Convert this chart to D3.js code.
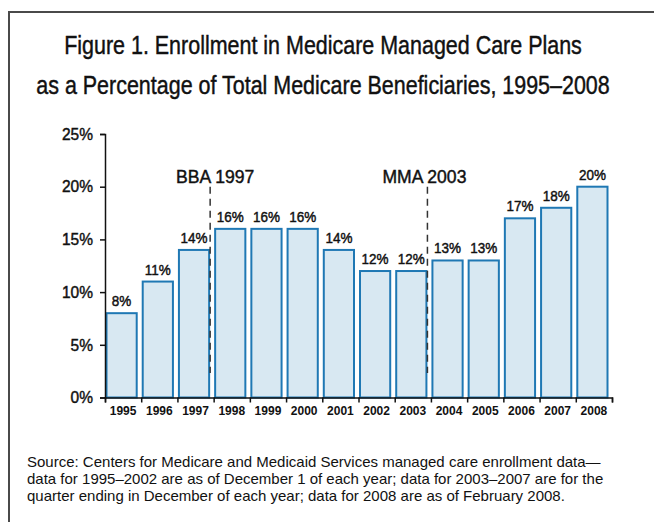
<!DOCTYPE html>
<html>
<head>
<meta charset="utf-8">
<script src="https://cdn.jsdelivr.net/npm/d3@7"></script>
<style>
  body { margin: 0; background: #fff; }
  text { fill: #111; font-family: 'Liberation Sans', Arial, sans-serif; }
  .heavy { stroke: #111; stroke-width: 0.45px; }
</style>
</head>
<body>
<div id="chart"></div>
<script>
// data
var years = ['1995', '1996', '1997', '1998', '1999', '2000', '2001', '2002', '2003', '2004', '2005', '2006', '2007', '2008'];
var share = [8, 11, 14, 16, 16, 16, 14, 12, 12, 13, 13, 17, 18, 20];
var yTicks = [0, 5, 10, 15, 20, 25];
var markerYears = ['1997', '2003'];
var markerLabels = ['BBA 1997', 'MMA 2003'];
var titleLines = ['Figure 1. Enrollment in Medicare Managed Care Plans',
    'as a Percentage of Total Medicare Beneficiaries, 1995\u20132008'];
var sourceLines = ['Source: Centers for Medicare and Medicaid Services managed care enrollment data\u2014',
    'data for 1995\u20132002 are as of December 1 of each year; data for 2003\u20132007 are for the',
    'quarter ending in December of each year; data for 2008 are as of February 2008.'];

var width = 654, height = 522;
// the original uses a condensed face; squeeze Liberation Sans horizontally instead
var squeezeTitle = 0.81, squeezeValue = 0.9, squeezeAxis = 0.94, squeezeMarker = 0.95;
var markerShift = [5, -3];

const svg = d3.select('#chart')
    .append('svg')
    .attr('width', width)
    .attr('height', height)

// frame
svg.append('path')
    .attr('d', `M9,${height}V12H${width}`)
    .attr('fill', 'none')
    .attr('stroke', '#4a4a4a')
    .attr('stroke-width', 2)

svg.append('g').selectAll('text')
    .data(titleLines)
    .join('text')
    .attr('class', 'heavy')
    .attr('transform', (d, i) => `translate(323,${54 + i * 40}) scale(${squeezeTitle},1)`)
    .attr('text-anchor', 'middle')
    .style('font-size', '26.5px')
    .text(d => d)

var x = d3.scaleBand()
    .domain(years)
    .range([105, 612])

var y = d3.scaleLinear()
    .domain([0, 25])
    .range([397.5, 134])

var barW = x.bandwidth() - 6
var barMid = i => x(years[i]) + 1.5 + barW / 2

svg.append('g').selectAll('rect')
    .data(share)
    .join('rect')
    .attr('x', (d, i) => x(years[i]) + 1.5)
    .attr('y', d => y(d))
    .attr('width', barW)
    .attr('height', d => y(0) - y(d))
    .attr('fill', '#d8e8f2')
    .attr('stroke', '#1f78b4')
    .attr('stroke-width', 2)

svg.append('g').selectAll('text')
    .data(share)
    .join('text')
    .attr('class', 'heavy')
    .attr('transform', (d, i) => `translate(${barMid(i)},${y(d) - 7}) scale(${squeezeValue},1)`)
    .attr('text-anchor', 'middle')
    .style('font-size', '15px')
    .text(d => d + '%')

// y axis
svg.append('g')
    .attr('transform', 'translate(105,0)')
    .call(d3.axisLeft(y).tickValues(yTicks).tickSize(5).tickPadding(7).tickFormat(d => d + '%'))
    .call(g => g.selectAll('.domain, line').attr('stroke', '#111').attr('stroke-width', 1.5))
    .call(g => g.selectAll('text')
        .attr('class', 'heavy')
        .attr('x', -12 / squeezeAxis)
        .attr('transform', `scale(${squeezeAxis},1)`)
        .style('font-size', '16.5px')
        .style('font-family', null)
        .attr('fill', '#111'))

// x axis: ticks on band edges, labels centred in each band
var xEdge = d3.scaleLinear().domain([0, years.length]).range(x.range())
svg.append('g')
    .attr('transform', `translate(0,${y(0)})`)
    .call(d3.axisBottom(xEdge).ticks(years.length).tickSize(5).tickFormat(''))
    .call(g => g.selectAll('.domain, line').attr('stroke', '#111').attr('stroke-width', 1.5))

svg.append('g').selectAll('text')
    .data(years)
    .join('text')
    .attr('x', d => x(d) + x.bandwidth() / 2)
    .attr('y', 415)
    .attr('text-anchor', 'middle')
    .style('font-size', '12px')
    .style('font-weight', 'bold')
    .text(d => d)

// policy markers
markerYears.forEach((yr, k) => {
    var mx = x(yr) + 2.5 + barW
    svg.append('line')
        .attr('x1', mx).attr('x2', mx)
        .attr('y1', y(20)).attr('y2', 373)
        .attr('stroke', '#333')
        .attr('stroke-width', 1.5)
        .attr('stroke-dasharray', '7,5')
    svg.append('text')
        .attr('class', 'heavy')
        .attr('transform', `translate(${mx + markerShift[k]},183) scale(${squeezeMarker},1)`)
        .attr('text-anchor', 'middle')
        .style('font-size', '18.5px')
        .text(markerLabels[k])
})

svg.append('g').selectAll('text')
    .data(sourceLines)
    .join('text')
    .attr('x', 27)
    .attr('y', (d, i) => 467 + i * 17)
    .style('font-size', '15px')
    .text(d => d)
</script>
</body>
</html>
